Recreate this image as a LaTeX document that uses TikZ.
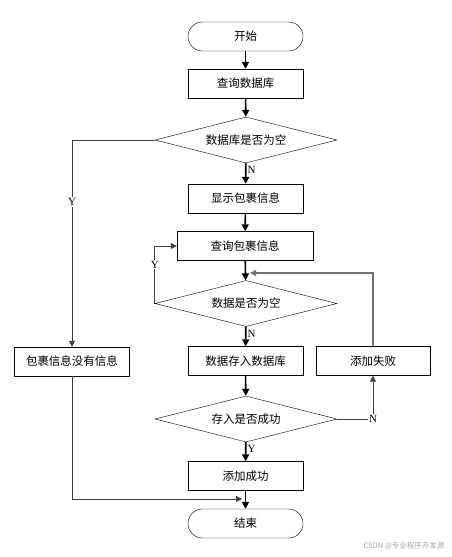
\documentclass[tikz,border=0pt]{standalone}
\usepackage{fontspec}
\setmainfont{Liberation Serif}
\newfontfamily\cjk{Noto Sans CJK SC}
\usetikzlibrary{shapes.geometric,arrows.meta}

\tikzset{
  proc/.style={draw, minimum width=115pt, minimum height=29pt, inner sep=0pt,
    font=\cjk\fontsize{11.5}{13}\selectfont},
  term/.style={proc, rounded corners=14.5pt},
  dec/.style={diamond, draw, aspect=3.95, minimum width=182pt, minimum height=46pt, inner sep=0pt,
    font=\cjk\fontsize{11.5}{13}\selectfont},
  main/.style={line width=1.6pt, -{Triangle[length=7pt,width=7pt]}},
  side/.style={line width=0.8pt, draw=black!75},
  lbl/.style={font=\fontsize{11}{12}\selectfont, inner sep=1pt}
}

\begin{document}
\begin{tikzpicture}[x=1pt, y=-1pt]
      \useasboundingbox (0,0) rectangle (452,557);

      % main column
      \node[term] (start) at (245.5,36.5) {开始};
      \node[proc] (qdb)   at (245.5,83.5) {查询数据库};
      \node[dec]  (dbnil) at (246,140) {数据库是否为空};
      \node[proc] (show)  at (245.5,198.5) {显示包裹信息};
      \node[proc, minimum width=136pt] (qpkg) at (245,246) {查询包裹信息};
      \node[dec]  (pkgnil) at (246,303.5) {数据是否为空};
      \node[proc] (save)  at (245.5,361) {数据存入数据库};
      \node[dec]  (saved) at (246,419) {存入是否成功};
      \node[proc] (ok)    at (245.5,476) {添加成功};
      \node[term] (stop)  at (245.5,523.5) {结束};

      % side boxes
      \node[proc] (empty) at (72,361.5) {包裹信息没有信息};
      \node[proc, minimum width=114pt] (fail) at (373,361) {添加失败};

      \coordinate (join1) at (250,273);
      \coordinate (join2) at (242,499);

      % flow
      \draw[main] (start) -- (qdb);
      \draw[main] (qdb) -- (dbnil);
      \draw[main] (dbnil) -- node[lbl, right, pos=0.35] {N} (show);
      \draw[main] (show) -- (qpkg);
      \draw[main] (qpkg) -- (pkgnil);
      \draw[main] (pkgnil) -- node[lbl, right, pos=0.35] {N} (save);
      \draw[main] (save) -- (saved);
      \draw[main] (saved) -- node[lbl, right, pos=0.35] {Y} (ok);
      \draw[main] (ok) -- (stop);

      % branches
      \draw[side, -{Triangle[length=6pt,width=6pt]}] (dbnil.west) -| node[lbl, fill=white, pos=0.65] {Y} (empty.north);
      \draw[side, -{Triangle[length=6pt,width=6pt]}] (empty.south) |- (join2);
      \draw[side, -{Triangle[length=6pt,width=6pt]}] (pkgnil.west) |- node[lbl, fill=white, pos=0.34] {Y} (qpkg.west);
      \draw[side, -{Triangle[length=6pt,width=6pt]}] (saved.east) -| node[lbl, fill=white, pos=0.5] {N} (fail.south);
      \draw[side, line width=1.4pt, draw=black!55, -{Triangle[length=6pt,width=6pt]}] (fail.north) |- (join1);

      % watermark
      \node[anchor=east, text=black!35, font=\cjk\fontsize{7.5}{9}\selectfont] (mark) at (448,546) {CSDN @专业程序开发源};
    \end{tikzpicture}
\end{document}
